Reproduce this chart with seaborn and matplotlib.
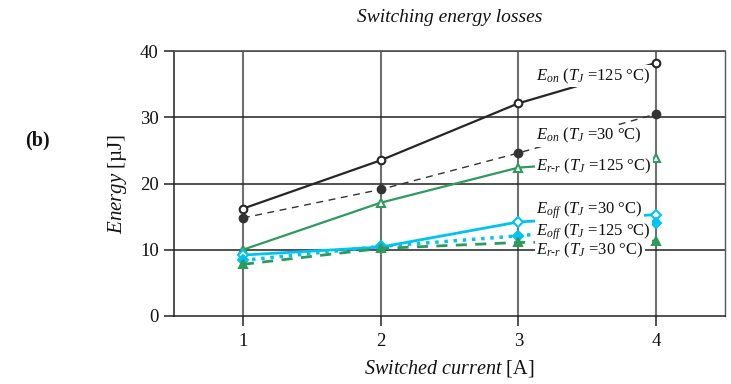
import matplotlib
matplotlib.use("Agg")
import matplotlib.pyplot as plt
import seaborn as sns
import pandas as pd

# ---- data ----
current = [1, 2, 3, 4]
e_on_125 = [16.2, 23.5, 32.1, 38.2]
e_on_30 = [14.8, 19.1, 24.6, 30.5]
e_rr_125 = [10.0, 17.1, 22.4, 23.8]
e_off_30 = [9.2, 10.4, 14.2, 15.3]
e_off_125 = [8.4, 10.5, 12.1, 14.0]
e_rr_30 = [7.8, 10.2, 11.1, 11.3]

x_ticks = [1, 2, 3, 4]
y_ticks = [0, 10, 20, 30, 40]
title = "Switching energy losses"
panel = "(b)"

label_on_125 = r"$E_{on}$ ($T_J$ =125 °C)"
label_on_30 = r"$E_{on}$ ($T_J$ =30 °C)"
label_rr_125 = r"$E_{r\text{-}r}$ ($T_J$ =125 °C)"
label_off_30 = r"$E_{off}$ ($T_J$ =30 °C)"
label_off_125 = r"$E_{off}$ ($T_J$ =125 °C)"
label_rr_30 = r"$E_{r\text{-}r}$ ($T_J$ =30 °C)"

sns.set_theme(style="white")
plt.rcParams["font.family"] = ["Liberation Serif", "DejaVu Serif"]
plt.rcParams["mathtext.fontset"] = "custom"
plt.rcParams["mathtext.rm"] = "Liberation Serif"
plt.rcParams["mathtext.it"] = "Liberation Serif:italic"
plt.rcParams["mathtext.bf"] = "Liberation Serif:bold"

fig = plt.figure(figsize=(7.31, 3.84), dpi=100)
ax = fig.add_axes([174 / 731, 68 / 384, (725 - 174) / 731, (316 - 51) / 384])

BLACK = "#262626"
GREEN = "#2e9a5e"
CYAN = "#00c3f2"

series = [
    (e_on_125, BLACK, "-", "o", "white", 1.6, None),
    (e_on_30, "#333333", "--", "o", "#333333", 1.0, (5, 4)),
    (e_rr_125, GREEN, "-", "^", "white", 1.6, None),
    (e_off_30, CYAN, "-", "D", "white", 2.0, None),
    (e_off_125, CYAN, ":", "D", CYAN, 2.5, None),
    (e_rr_30, GREEN, "--", "^", GREEN, 2.0, (4, 3)),
]

for vals, col, ls, mk, fc, lw, dashes in series:
    df = pd.DataFrame({"x": current, "y": vals})
    ms = 5.5 if mk != "D" else 4.8
    sns.lineplot(data=df, x="x", y="y", ax=ax, color=col, linestyle=ls,
                 linewidth=lw, marker=mk, markersize=ms,
                 markerfacecolor=fc, markeredgecolor=col,
                 markeredgewidth=1.5, zorder=3)
    ln = ax.lines[-1]
    if dashes is not None:
        ln.set_dashes(dashes)

ax.set_xlim(0.5, 4.5)
ax.set_ylim(0, 40)
ax.set_xticks(x_ticks)
ax.set_yticks(y_ticks)
ax.set_xticklabels([str(v) for v in x_ticks])
ax.set_yticklabels([str(v) for v in y_ticks])

for xv in x_ticks:
    ax.axvline(xv, color="#707070", lw=1.5, zorder=1)
for yv in y_ticks[1:]:
    ax.axhline(yv, color="#222222", lw=1.1, zorder=1)

for s in ["left", "bottom"]:
    ax.spines[s].set_color("#222222")
    ax.spines[s].set_linewidth(1.1)
ax.spines["top"].set_color("#555555")
ax.spines["right"].set_color("#555555")
ax.spines["right"].set_linewidth(1.0)

ax.tick_params(axis="both", direction="out", length=7, width=1.1, color="#222222",
               labelsize=13.5, labelcolor="#111111", left=True, bottom=True)
ax.tick_params(axis="y", pad=4)
ax.tick_params(axis="x", pad=5)

ax.set_xlabel(r"$\mathit{Switched\ current}$ [A]", fontsize=14.5, color="#111111", labelpad=6)
ax.set_ylabel(r"$\mathit{Energy}$ [µJ]", fontsize=15, color="#111111", labelpad=8)
ax.set_title(title, fontsize=14, fontstyle="italic", color="#111111", pad=21)

fig.text(25 / 731, 1 - 140 / 384, panel, fontsize=14.5, fontweight="bold",
         color="#111111", va="center", ha="left")

lx = 3.13
labels = [
    (label_on_125, 35.6),
    (label_on_30, 26.6),
    (label_rr_125, 22.0),
    (label_off_30, 15.5),
    (label_off_125, 12.2),
    (label_rr_30, 9.36),
]
for txt, yv in labels:
    ax.text(lx, yv, txt, fontsize=12, color="#111111", ha="left", va="baseline",
            zorder=5, bbox=dict(facecolor="white", edgecolor="none", pad=0.8))

fig.savefig("out.png", dpi=100)
